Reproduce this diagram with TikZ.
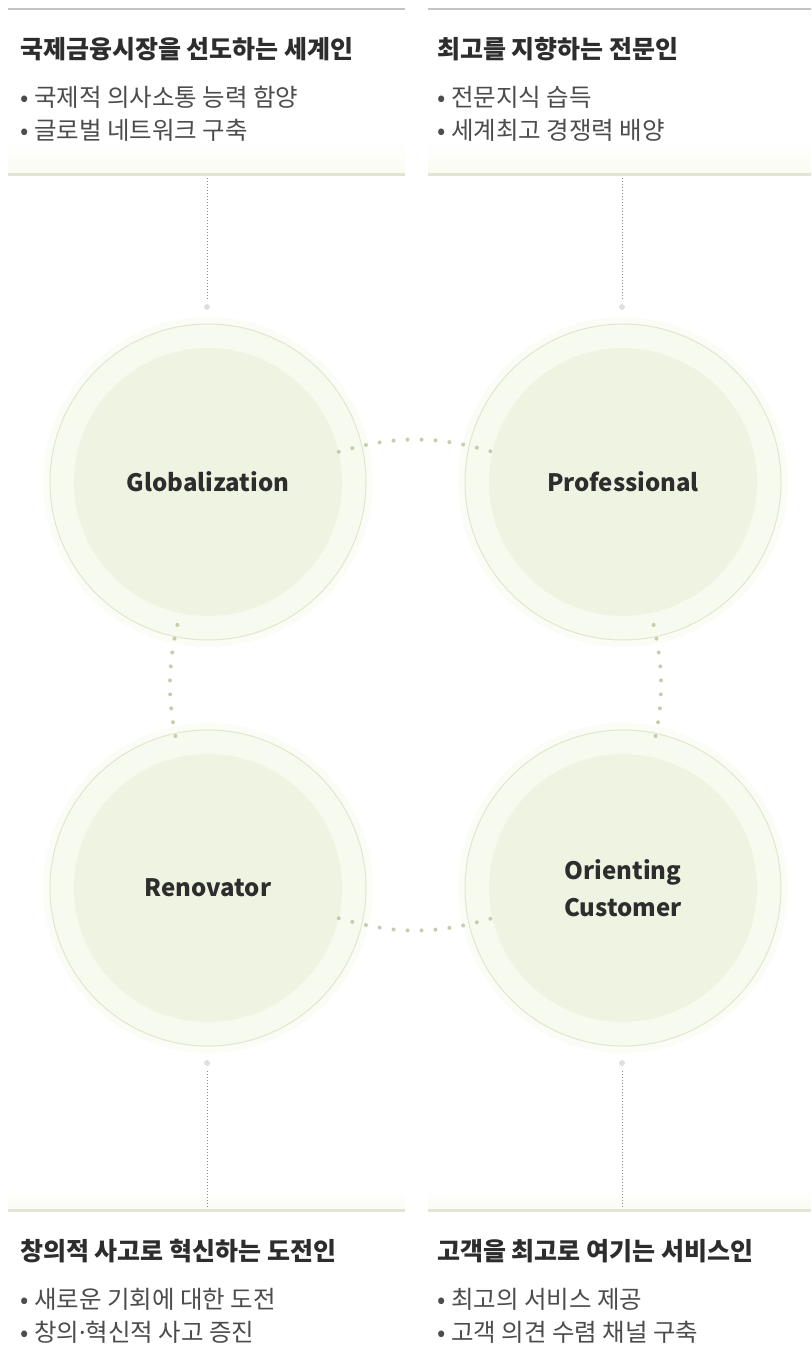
\documentclass[tikz,border=0pt]{standalone}
\usepackage{fontspec}
\setmainfont{Noto Sans CJK KR}
\newfontfamily\dotfont{Noto Sans}
\usetikzlibrary{positioning}
\definecolor{ruleColor}{RGB}{196,196,196}
\definecolor{baseColor}{RGB}{226,229,214}
\definecolor{tintColor}{RGB}{250,251,242}
\definecolor{haloColor}{RGB}{251,252,246}
\definecolor{ringColor}{RGB}{247,250,239}
\definecolor{ringLine}{RGB}{224,231,206}
\definecolor{coreColor}{RGB}{239,244,226}
\definecolor{linkColor}{RGB}{196,206,172}
\definecolor{textColor}{RGB}{45,45,45}
\tikzset{heading/.style={anchor=base west, inner sep=0pt, font=\bfseries\fontsize{25}{29}\selectfont, text=textColor}}
\tikzset{item/.style={anchor=base west, inner sep=0pt, font=\fontsize{24.5}{28}\selectfont, text=textColor!85}}
\tikzset{ring/.style={circle, fill=ringColor, draw=ringLine, line width=1pt, minimum size=316pt, inner sep=0pt, preaction={draw=haloColor, line width=14pt}}}
\tikzset{core/.style={circle, fill=coreColor, minimum size=268pt, inner sep=0pt, align=center, font=\bfseries\fontsize{24}{37}\selectfont, text=textColor}}
\tikzset{link/.style={draw=linkColor, line width=4pt, line cap=round, dash pattern=on 0pt off 14pt}}
\tikzset{guide/.style={draw=black!45, line width=1pt, dotted}}
\tikzset{stud/.style={circle, fill=black!12, minimum size=6pt, inner sep=0pt}}
\tikzset{panelrule/.style={draw=ruleColor, line width=1.5pt}}
\tikzset{panelbase/.style={draw=baseColor, line width=3pt}}

\begin{document}
\begin{tikzpicture}[x=1pt, y=-1pt]
	\useasboundingbox (0,0) rectangle (811,1365);

	% Panels
	\shade[top color=white, bottom color=tintColor] (8,140) rectangle (405,173);
	\shade[top color=white, bottom color=tintColor] (428,140) rectangle (811,173);
	\shade[top color=white, bottom color=tintColor] (8,1190) rectangle (405,1209);
	\shade[top color=white, bottom color=tintColor] (428,1190) rectangle (811,1209);
	\draw[panelrule] (8,9) -- (405,9);
	\draw[panelrule] (428,9) -- (811,9);
	\draw[panelbase] (8,174) -- (405,174);
	\draw[panelbase] (428,174) -- (811,174);
	\draw[panelbase] (8,1210) -- (405,1210);
	\draw[panelbase] (428,1210) -- (811,1210);

	% Nodes
	\node (globhead) [heading] at (20,58) {국제금융시장을 선도하는 세계인};
	\node (globitemA) [item] at (20,106) {• 국제적 의사소통 능력 함양};
	\node (globitemB) [item] at (20,139) {• 글로벌 네트워크 구축};

	\node (profhead) [heading] at (437,58) {최고를 지향하는 전문인};
	\node (profitemA) [item] at (437,106) {• 전문지식 습득};
	\node (profitemB) [item] at (437,139) {• 세계최고 경쟁력 배양};

	\node (renohead) [heading] at (20,1260) {창의적 사고로 혁신하는 도전인};
	\node (renoitemA) [item] at (20,1308) {• 새로운 기회에 대한 도전};
	\node (renoitemB) [item] at (20,1341) {• 창의{\dotfont ·}혁신적 사고 증진};

	\node (custhead) [heading] at (437,1260) {고객을 최고로 여기는 서비스인};
	\node (custitemA) [item] at (437,1308) {• 최고의 서비스 제공};
	\node (custitemB) [item] at (437,1341) {• 고객 의견 수렴 채널 구축};

	\node (globring) [ring] at (208,482) {};
	\node (globcore) [core] at (208,482) {Globalization};
	\node (profring) [ring] at (623,482) {};
	\node (profcore) [core] at (623,482) {Professional};
	\node (renoring) [ring] at (208,888) {};
	\node (renocore) [core] at (208,888) {Renovator};
	\node (custring) [ring] at (623,888) {};
	\node (custcore) [core] at (623,888) {Orienting\\Customer};

	\node (globstud) [stud] at (207,307) {};
	\node (profstud) [stud] at (622,307) {};
	\node (renostud) [stud] at (207,1063) {};
	\node (custstud) [stud] at (622,1063) {};

	\coordinate (globtop) at (207,178);
	\coordinate (proftop) at (622,178);
	\coordinate (renobottom) at (207,1208);
	\coordinate (custbottom) at (622,1208);

	% Connectors
	\draw[guide, shorten >=5pt] (globtop) -- (globstud);
	\draw[guide, shorten >=5pt] (proftop) -- (profstud);
	\draw[guide, shorten <=5pt] (renostud) -- (renobottom);
	\draw[guide, shorten <=5pt] (custstud) -- (custbottom);

	\draw[link] (globcore.13) to[bend left=16] (profcore.167);
	\draw[link] (renocore.-13) to[bend right=16] (custcore.-167);
	\draw[link, shorten >=12pt, shorten <=12pt] (globcore.-102) to[bend right=13] (renocore.102);
	\draw[link, shorten >=12pt, shorten <=12pt] (profcore.-78) to[bend left=13] (custcore.78);

\end{tikzpicture}
\end{document}
